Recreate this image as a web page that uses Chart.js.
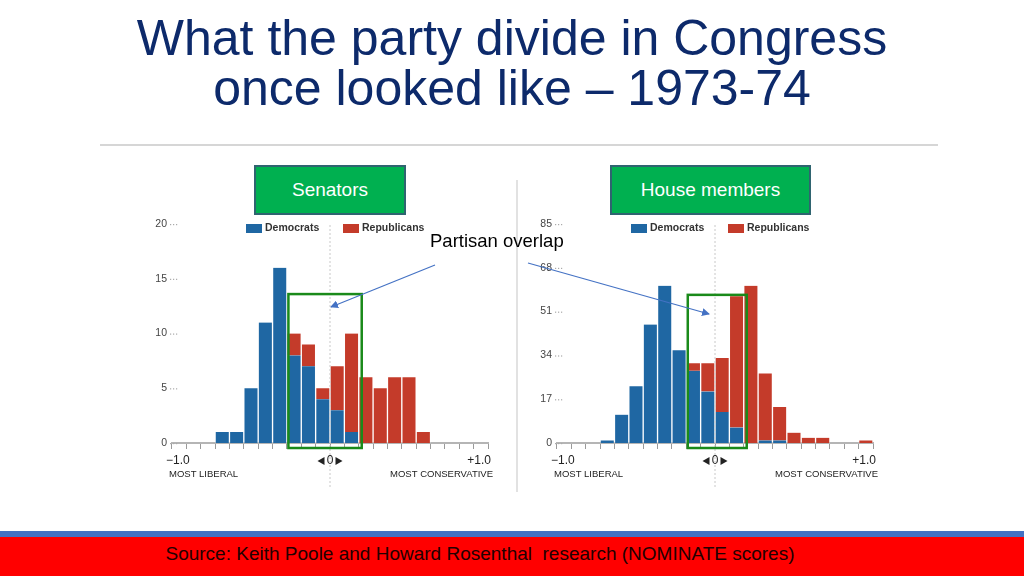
<!DOCTYPE html>
<html>
<head>
<meta charset="utf-8">
<script src="https://cdn.jsdelivr.net/npm/chart.js@4"></script>
<style>
  body{margin:0;width:1024px;height:576px;overflow:hidden;background:#fff;font-family:"Liberation Sans",Arial,sans-serif;position:relative}
  .title{position:absolute;left:0;top:13px;width:1024px;text-align:center;color:#0d2a6b;font-size:50px;line-height:50px}
  .rule{position:absolute;left:100px;top:144px;width:838px;height:2px;background:#d6d6d6}
  .sep{position:absolute;left:516px;top:180px;width:2px;height:312px;background:#e2e2e2}
  .box{position:absolute;top:165px;height:46px;background:#00b050;border:2px solid #2f6470;color:#fff;font-size:19px;display:flex;align-items:center;justify-content:center}
  .cv{position:absolute;top:210px;width:370px;height:285px}
  .note{position:absolute;left:430px;top:230px;font-size:18.5px;color:#000}
  .blue{position:absolute;left:0;top:531px;width:1024px;height:6px;background:#4472c4}
  .red{position:absolute;left:0;top:537px;width:1024px;height:39px;background:#ff0000}
  .src{position:absolute;left:0;top:543px;width:960px;text-align:center;font-size:19px;color:#220000}
  svg{position:absolute;left:0;top:0}
</style>
</head>
<body>
<div class="title">What the party divide in Congress<br>once looked like &ndash; 1973-74</div>
<div class="rule"></div>
<div class="sep"></div>
<div class="box" style="left:254px;width:148px">Senators</div>
<div class="box" style="left:610px;width:197px">House members</div>
<div class="cv" style="left:140px"><canvas id="senate"></canvas></div>
<div class="cv" style="left:525px"><canvas id="house"></canvas></div>
<div class="note">Partisan overlap</div>
<svg width="1024" height="576">
  <defs>
    <marker id="ah" markerWidth="8" markerHeight="8" refX="7" refY="4" orient="auto" markerUnits="userSpaceOnUse">
      <path d="M0,0 L8,4 L0,8 z" fill="#4472c4"/>
    </marker>
  </defs>
  <line x1="435" y1="265" x2="331" y2="307" stroke="#4472c4" stroke-width="1.2" marker-end="url(#ah)"/>
  <line x1="528" y1="263" x2="709" y2="314" stroke="#4472c4" stroke-width="1.2" marker-end="url(#ah)"/>
</svg>
<div class="blue"></div>
<div class="red"></div>
<div class="src">Source: Keith Poole and Howard Rosenthal&nbsp; research (NOMINATE scores)</div>
<script>
// 22 ideology bins from most liberal (-1) to most conservative (+1)
const bins = Array.from({length:22}, (_,i)=>'b'+i);

// Senate counts per bin
const senateDem = [0,0,0,1,1,5,11,16,8,7,4,3,1,0,0,0,0,0,0,0,0,0];
const senateRep = [0,0,0,0,0,0,0,0,2,2,1,4,9,6,5,6,6,1,0,0,0,0];
const senateTicks = [0,5,10,15,20];

// House counts per bin
const houseDem = [0,0,0,1,11,22,46,61,36,28,20,12,6,0,1,1,0,0,0,0,0,0];
const houseRep = [0,0,0,0,0,0,0,0,0,3,11,21,51,61,26,13,4,2,2,0,0,1];
const houseTicks = [0,17,34,51,68,85];

// overlap boxes: [first bin, last bin, top value]
const senateOverlap = [8,12,13.6];
const houseOverlap = [9,12,57.5];

const BLUE = '#1f67a3', RED = '#c43b2a';
const FONT = '"Liberation Sans", Arial, sans-serif';

const decor = {
  id:'decor',
  afterDraw(chart, args, opts){
    const {ctx, chartArea:a, scales:{x,y}} = chart;
    const half = (x.getPixelForValue(1)-x.getPixelForValue(0))/2;
    ctx.save();
    // dotted leaders after the y tick labels
    ctx.fillStyle='#aaa';
    y.ticks.forEach(t=>{
      const py = y.getPixelForValue(t.value);
      for(let k=0;k<3;k++) ctx.fillRect(a.left-2+k*3, py, 1.2, 1.2);
    });
    // zero line
    const zx = x.getPixelForValue(10)+half;
    ctx.strokeStyle='#c8c8c8'; ctx.lineWidth=1; ctx.setLineDash([2,2]);
    ctx.beginPath(); ctx.moveTo(zx, a.top+1); ctx.lineTo(zx, chart.height-7); ctx.stroke();
    ctx.setLineDash([]);
    // legend
    ctx.font='bold 10.5px '+FONT;
    ctx.textBaseline='middle';
    chart.data.datasets.forEach((ds,i)=>{
      const lx = a.left + (i ? 171 : 74);
      ctx.fillStyle=ds.backgroundColor;
      ctx.fillRect(lx, a.top, 16, 9);
      ctx.fillStyle='#333';
      ctx.fillText(ds.label, lx+19, a.top+4.5);
    });
    // axis end labels
    const yb = y.getPixelForValue(0);
    ctx.fillStyle='#222';
    ctx.font='12px '+FONT;
    ctx.textAlign='left'; ctx.fillText('\u22121.0', a.left-6, yb+18);
    ctx.textAlign='right'; ctx.fillText('+1.0', a.right+3, yb+18);
    ctx.textAlign='center'; ctx.fillText('0', zx, yb+18);
    [[-1,-9],[1,9]].forEach(([d,o])=>{
      ctx.beginPath();
      ctx.moveTo(zx+o-d*3.5, yb+14); ctx.lineTo(zx+o+d*3.5, yb+18); ctx.lineTo(zx+o-d*3.5, yb+22);
      ctx.closePath(); ctx.fill();
    });
    ctx.font='9.5px '+FONT;
    ctx.textAlign='left'; ctx.fillText('MOST LIBERAL', a.left-3, yb+31);
    ctx.textAlign='right'; ctx.fillText('MOST CONSERVATIVE', a.right+5, yb+31);
    // overlap box
    const [b0,b1,top] = opts.overlap;
    const x0 = x.getPixelForValue(b0)-half, x1 = x.getPixelForValue(b1)+half;
    const y0 = y.getPixelForValue(top);
    ctx.strokeStyle='#1a8a1a'; ctx.lineWidth=2.5;
    ctx.strokeRect(x0+1.5, y0, x1-x0+1.5, yb+5-y0);
    ctx.restore();
  }
};

function makeChart(id, dem, rep, ticks, overlap){
  new Chart(document.getElementById(id), {
    type:'bar',
    data:{
      labels:bins,
      datasets:[
        {label:'Democrats', data:dem, backgroundColor:BLUE, borderColor:'rgba(255,255,255,0.35)', borderWidth:{left:1,right:1}},
        {label:'Republicans', data:rep, backgroundColor:RED, borderColor:'rgba(255,255,255,0.35)', borderWidth:{left:1,right:1}}
      ]
    },
    options:{
      responsive:true, maintainAspectRatio:false, animation:false,
      layout:{padding:{top:14,right:22,left:0,bottom:0}},
      plugins:{legend:{display:false}, tooltip:{enabled:false}, decor:{overlap}},
      datasets:{bar:{barPercentage:1, categoryPercentage:1}},
      scales:{
        x:{
          stacked:true,
          grid:{offset:true, drawOnChartArea:false, drawTicks:true, tickLength:6, color:'#9a9a9a'},
          border:{display:true, color:'#b5b5b5', width:2},
          ticks:{display:false},
          afterFit(s){ s.height = 52; }
        },
        y:{
          stacked:true, min:0, max:ticks[ticks.length-1],
          afterBuildTicks(s){ s.ticks = ticks.map(v=>({value:v})); },
          grid:{display:false}, border:{display:false},
          ticks:{padding:-3, color:'#444', font:{size:10.5, family:FONT}},
          afterFit(s){ s.width = 32; }
        }
      }
    },
    plugins:[decor]
  });
}

makeChart('senate', senateDem, senateRep, senateTicks, senateOverlap);
makeChart('house', houseDem, houseRep, houseTicks, houseOverlap);
</script>
</body>
</html>
